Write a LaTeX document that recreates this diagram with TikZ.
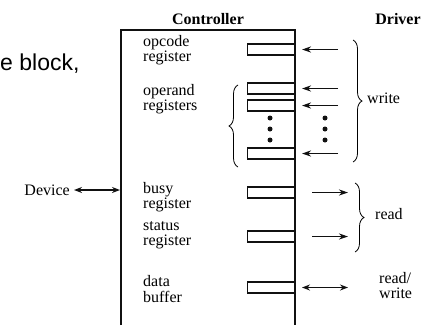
\documentclass[tikz,border=0pt]{standalone}
\usepackage{fontspec}
\setmainfont{Liberation Serif}
\newfontfamily\slidefont{Liberation Sans}
\usepackage{tikz}
\usetikzlibrary{arrows.meta, positioning, decorations.pathreplacing, calc}
\definecolor{inkblack}{HTML}{111111}
\tikzset{
  head/.style={font=\fontsize{16}{16}\selectfont\bfseries, inner sep=0pt},
  lbl/.style={
    align=left, anchor=north west, inner sep=0pt,
    font=\fontsize{16}{13}\selectfont,
  },
  slidetext/.style={font=\slidefont\fontsize{23}{23}\selectfont, inner sep=0pt},
  outline/.style={line width=2pt, color=inkblack},
  reg/.style={
    rectangle, draw=inkblack, line width=1.3pt,
    minimum width=47pt, minimum height=11pt,
    inner sep=0pt, anchor=east,
  },
  wire/.style={-{Stealth[length=9pt,width=6pt]}, line width=1.8pt, color=inkblack},
  bothwire/.style={{Stealth[length=8pt,width=6pt]}-{Stealth[length=8pt,width=6pt]}, line width=1.6pt, color=inkblack},
  brace/.style={decorate, decoration={brace, amplitude=9pt}, line width=0.8pt},
  dot/.style={circle, fill=inkblack, inner sep=0pt, minimum size=5pt},
}

\begin{document}
\begin{tikzpicture}[x=1pt, y=-1pt]
  \useasboundingbox (0,0) rectangle (430,325);

  % text left over from the slide
  \node[slidetext, anchor=base west] (slide) at (0,70) {e block,};

  \node[head] (ctrl) at (208,19) {Controller};
  \node[head] (drv) at (398,19) {Driver};

  % controller outline
  \coordinate (cbl) at (121,325);
  \coordinate (ctl) at (121,30);
  \coordinate (ctr) at (295,30);
  \coordinate (cbr) at (295,325);
  \draw[outline] (cbl) -- (ctl) -- (ctr) -- (cbr);

  % registers
  \node[reg] (opc) at (295,49.5) {};
  \node[reg] (opa) at (295,88.5) {};
  \node[reg] (opb) at (295,105.5) {};
  \node[reg] (opn) at (295,153.5) {};
  \node[reg] (busy) at (295,192.5) {};
  \node[reg] (stat) at (295,236.5) {};
  \node[reg] (data) at (295,287.5) {};

  \node[lbl] (opclbl) at (143,35.1) {\strut opcode\\register};
  \node[lbl] (opalbl) at (143,84.1) {\strut operand\\registers};
  \node[lbl] (busylbl) at (143,182.1) {\strut busy\\register};
  \node[lbl] (statlbl) at (143,220.7) {\strut status\\register};
  \node[lbl] (datalbl) at (143,275.1) {\strut data\\buffer};

  % dots for the rest of the operands
  \node[dot] (d1) at (270,118) {};
  \node[dot] (d2) at (270,129) {};
  \node[dot] (d3) at (270,140) {};
  \node[dot] (e1) at (325,118) {};
  \node[dot] (e2) at (325,129) {};
  \node[dot] (e3) at (325,140) {};

  % driver side
  \coordinate (w1) at (338,49.5);
  \coordinate (w2) at (338,88.5);
  \coordinate (w3) at (338,105.5);
  \coordinate (w4) at (338,153.5);
  \coordinate (v1) at (302,49.5);
  \coordinate (v2) at (302,88.5);
  \coordinate (v3) at (302,105.5);
  \coordinate (v4) at (302,153.5);
  \draw[wire] (w1) -- (v1);
  \draw[wire] (w2) -- (v2);
  \draw[wire] (w3) -- (v3);
  \draw[wire] (w4) -- (v4);

  \coordinate (r1) at (312,192.5);
  \coordinate (r2) at (312,236.5);
  \coordinate (s1) at (348,192.5);
  \coordinate (s2) at (348,236.5);
  \draw[wire] (r1) -- (s1);
  \draw[wire] (r2) -- (s2);

  \coordinate (rw1) at (302,287.5);
  \coordinate (rw2) at (348,287.5);
  \draw[bothwire] (rw1) -- (rw2);

  \coordinate (wtop) at (353,40);
  \coordinate (wbot) at (353,162);
  \draw[brace] (wtop) -- (wbot);
  \node[lbl, anchor=west] (wlbl) at (367,98) {write};

  \coordinate (rtop) at (355,183);
  \coordinate (rbot) at (355,252);
  \draw[brace] (rtop) -- (rbot);
  \node[lbl, anchor=west] (rlbl) at (375,214) {read};

  \node[lbl] (rwlbl) at (379,272.1) {\strut read/\\write};

  % operand group
  \coordinate (obot) at (238,167);
  \coordinate (otop) at (238,85);
  \draw[brace] (obot) -- (otop);

  % device link
  \node[lbl, anchor=east] (dev) at (70,190) {Device};
  \coordinate (dl) at (74,190);
  \coordinate (dr) at (120,190);
  \draw[bothwire] (dl) -- (dr);

\end{tikzpicture}
\end{document}
